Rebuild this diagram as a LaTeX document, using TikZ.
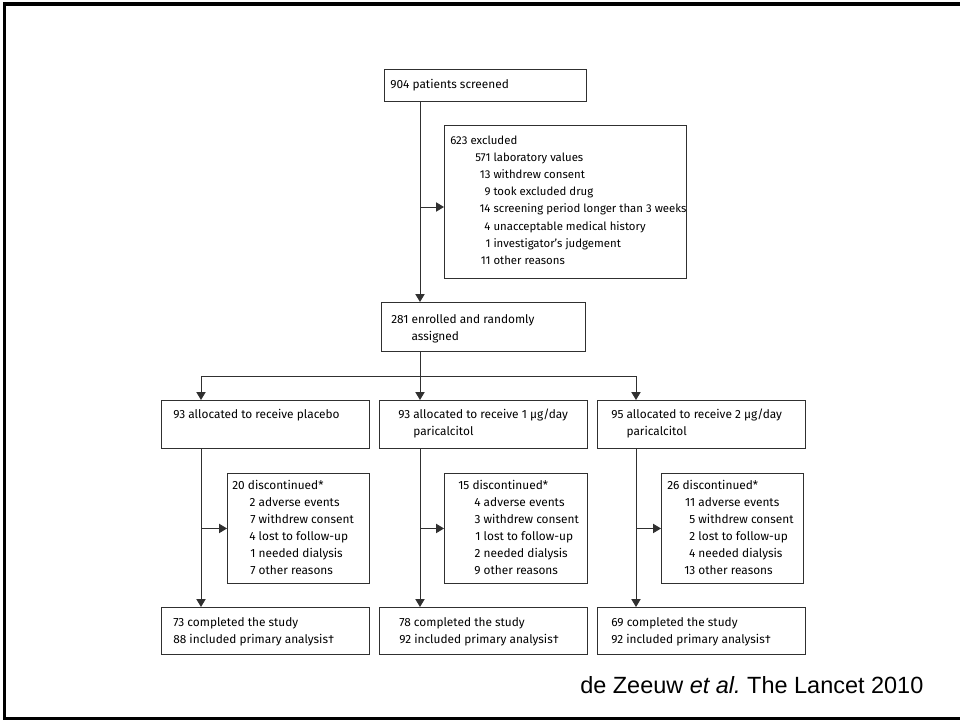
\documentclass[tikz,border=0pt]{standalone}
\usepackage{fontspec}
\setmainfont{Fira Sans}
\newfontfamily\capfont{Liberation Sans}
\usetikzlibrary{arrows.meta,calc}
\definecolor{linecol}{HTML}{303030}
\frenchspacing
\begin{document}
\begin{tikzpicture}[x=0.75pt,y=-0.75pt,
  box/.style={draw=linecol, line width=0.7pt, anchor=north west, inner sep=0pt, fill=white},
  txt/.style={anchor=base west, inner sep=0pt, font=\fontsize{8.9}{12.75}\selectfont, text=black},
  ln/.style={draw=linecol, line width=0.7pt},
  arr/.style={draw=linecol, line width=0.7pt, -{Triangle[length=6pt,width=7pt]}},
]
\useasboundingbox (0,0) rectangle (960,721);
\draw[line width=2.3pt] (970,4) -- (4.5,4) -- (4.5,718.5) -- (970,718.5);

% boxes
\node[box, minimum width=151.5pt, minimum height=24pt] (screen) at (384,69) {};
\node[box, minimum width=181.5pt, minimum height=114.75pt] (excl) at (444,125) {};
\node[box, minimum width=153pt, minimum height=36.75pt] (enrol) at (381,302) {};
\node[box, minimum width=156pt, minimum height=36pt] (arm1) at (161,400) {};
\node[box, minimum width=156pt, minimum height=36pt] (arm2) at (379,400) {};
\node[box, minimum width=156pt, minimum height=36pt] (arm3) at (597,400) {};
\node[box, minimum width=106.5pt, minimum height=82.5pt] (disc1) at (227,473) {};
\node[box, minimum width=107.25pt, minimum height=82.5pt] (disc2) at (444,473) {};
\node[box, minimum width=106.5pt, minimum height=82.5pt] (disc3) at (661,473) {};
\node[box, minimum width=156pt, minimum height=35.25pt] (comp1) at (161,607) {};
\node[box, minimum width=156pt, minimum height=35.25pt] (comp2) at (379,607) {};
\node[box, minimum width=156pt, minimum height=35.25pt] (comp3) at (597,607) {};

% texts
\node[txt] (tscreen) at (390,88) {904 patients screened};
\node[txt, font=\fontsize{8.55}{12.9}\selectfont] (texcl) at (450,144) {\begin{tabular}[t]{@{\hspace{18.75pt}}r@{ }l}
\multicolumn{2}{@{}l}{623 excluded}\\
571 & laboratory values\\
13 & withdrew consent\\
9 & took excluded drug\\
14 & screening period longer than 3 weeks\\
4 & unacceptable medical history\\
1 & investigator’s judgement\\
11 & other reasons
\end{tabular}};
\node[txt] (tenrol) at (391,323) {\begin{tabular}[t]{@{}r@{ }l}
281 & enrolled and randomly\\
 & assigned
\end{tabular}};
\node[txt] (tarm1) at (173,418) {93 allocated to receive placebo};
\node[txt] (tarm2) at (398,418) {\begin{tabular}[t]{@{}r@{ }l}
93 & allocated to receive 1 µg/day\\
 & paricalcitol
\end{tabular}};
\node[txt] (tarm3) at (611,418) {\begin{tabular}[t]{@{}r@{ }l}
95 & allocated to receive 2 µg/day\\
 & paricalcitol
\end{tabular}};
\node[txt] (tdisc1) at (232,489) {\begin{tabular}[t]{@{\hspace{12.75pt}}r@{ }l}
\multicolumn{2}{@{}l}{20 discontinued*}\\
2 & adverse events\\
7 & withdrew consent\\
4 & lost to follow-up\\
1 & needed dialysis\\
7 & other reasons
\end{tabular}};
\node[txt] (tdisc2) at (458,489) {\begin{tabular}[t]{@{\hspace{12pt}}r@{ }l}
\multicolumn{2}{@{}l}{15 discontinued*}\\
4 & adverse events\\
3 & withdrew consent\\
1 & lost to follow-up\\
2 & needed dialysis\\
9 & other reasons
\end{tabular}};
\node[txt] (tdisc3) at (667,489) {\begin{tabular}[t]{@{\hspace{12.75pt}}r@{ }l}
\multicolumn{2}{@{}l}{26 discontinued*}\\
11 & adverse events\\
5 & withdrew consent\\
2 & lost to follow-up\\
4 & needed dialysis\\
13 & other reasons
\end{tabular}};
\node[txt] (tcomp1) at (173,626) {\begin{tabular}[t]{@{}l}
73 completed the study\\
88 included primary analysis†
\end{tabular}};
\node[txt] (tcomp2) at (399,626) {\begin{tabular}[t]{@{}l}
78 completed the study\\
92 included primary analysis†
\end{tabular}};
\node[txt] (tcomp3) at (611,626) {\begin{tabular}[t]{@{}l}
69 completed the study\\
92 included primary analysis†
\end{tabular}};

\node[anchor=base west, inner sep=0pt, font=\capfont\fontsize{17.6}{20}\selectfont] (cap) at (580,693)
  {de Zeeuw {\itshape et al.} The Lancet 2010};

% connectors
\coordinate (spine) at (420,0);
\coordinate (lft) at (201,0);
\coordinate (rgt) at (636,0);
\coordinate (split) at (420,376);
\coordinate (exin) at (444,207);
\draw[arr] (screen.south -| spine) -- (enrol.north -| spine);
\draw[arr] (exin -| spine) -- (exin);
\draw[arr] (enrol.south -| spine) -- (arm2.north -| spine);
\draw[arr] (split) -| (arm1.north -| lft);
\draw[arr] (split) -| (arm3.north -| rgt);

\draw[arr] (arm1.south -| lft) -- (comp1.north -| lft);
\draw[arr] (disc1.west -| lft) -- (disc1.west);
\draw[arr] (arm2.south -| spine) -- (comp2.north -| spine);
\draw[arr] (disc2.west -| spine) -- (disc2.west);
\draw[arr] (arm3.south -| rgt) -- (comp3.north -| rgt);
\draw[arr] (disc3.west -| rgt) -- (disc3.west);
\end{tikzpicture}
\end{document}
